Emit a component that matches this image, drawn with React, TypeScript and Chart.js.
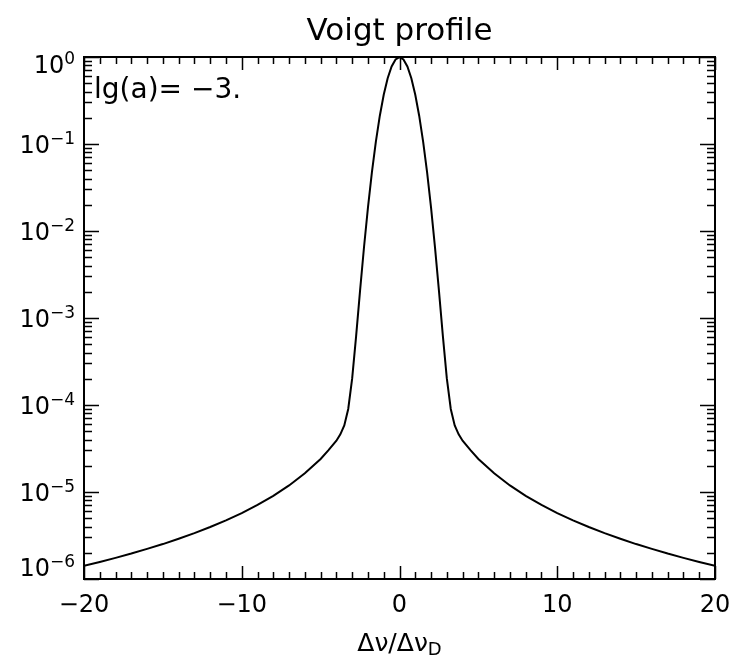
import React, { useEffect, useRef } from "react";
import { Chart, registerables } from "chart.js";

Chart.register(...registerables);

// Voigt profile H(a, v) with lg(a) = -3
const detuning = [
  -20, -19, -18, -17, -16, -15, -14, -13, -12, -11, -10, -9, -8, -7, -6, -5, -4.5, -4,
  -3.75, -3.5, -3.25, -3, -2.75, -2.5, -2.25, -2, -1.75, -1.5, -1.25, -1, -0.75, -0.5, -0.25,
  0,
  0.25, 0.5, 0.75, 1, 1.25, 1.5, 1.75, 2, 2.25, 2.5, 2.75, 3, 3.25, 3.5, 3.75,
  4, 4.5, 5, 6, 7, 8, 9, 10, 11, 12, 13, 14, 15, 16, 17, 18, 19, 20,
];
const profile = [
  1.42e-6, 1.57e-6, 1.75e-6, 1.96e-6, 2.22e-6, 2.52e-6, 2.9e-6, 3.37e-6, 3.96e-6, 4.72e-6,
  5.73e-6, 7.1e-6, 9.02e-6, 1.19e-5, 1.64e-5, 2.4e-5, 3.03e-5, 3.89e-5,
  4.6e-5, 5.81e-5, 9.0e-5, 2.02e-4, 6.2e-4, 2.06e-3, 6.5e-3, 1.855e-2, 4.707e-2, 0.1057, 0.21, 0.368, 0.5696, 0.7781, 0.9384,
  0.9989,
  0.9384, 0.7781, 0.5696, 0.368, 0.21, 0.1057, 4.707e-2, 1.855e-2, 6.5e-3, 2.06e-3, 6.2e-4, 2.02e-4, 9.0e-5, 5.81e-5, 4.6e-5,
  3.89e-5, 3.03e-5, 2.4e-5, 1.64e-5, 1.19e-5, 9.02e-6, 7.1e-6, 5.73e-6, 4.72e-6, 3.96e-6, 3.37e-6,
  2.9e-6, 2.52e-6, 2.22e-6, 1.96e-6, 1.75e-6, 1.57e-6, 1.42e-6,
];

const xMin = -20;
const xMax = 20;
const xMajorStep = 10;
const xMinorStep = 1;
const yMinDecade = -6;
const yMaxDecade = 0;

const titleText = "Voigt profile";
const annotationText = "lg(a)= −3.";
const xAxisLabel = "Δν/Δν";
const xAxisSub = "D";
const yTickBase = "10";

const FONT = '"DejaVu Sans", sans-serif';

const idlFrame = {
  id: "idlFrame",
  afterDraw(chart: any) {
    const { ctx, chartArea: a, scales } = chart;
    const xs = scales.x;
    const ys = scales.y;
    ctx.save();
    ctx.strokeStyle = "#000";
    ctx.fillStyle = "#000";

    // tick marks, inward, on all four sides
    ctx.lineWidth = 1.5;
    ctx.beginPath();
    for (let v = xMin; v <= xMax; v += xMinorStep) {
      const px = Math.round(xs.getPixelForValue(v)) + 0.5;
      const len = v % xMajorStep === 0 ? 13 : 7;
      ctx.moveTo(px, a.bottom);
      ctx.lineTo(px, a.bottom - len);
      ctx.moveTo(px, a.top);
      ctx.lineTo(px, a.top + len);
    }
    for (let k = yMinDecade; k <= yMaxDecade; k++) {
      for (let m = 1; m <= 9; m++) {
        const v = m * Math.pow(10, k);
        if (v > Math.pow(10, yMaxDecade) * 1.0001) break;
        const py = Math.round(ys.getPixelForValue(v)) + 0.5;
        const len = m === 1 ? 15 : 8;
        ctx.moveTo(a.left, py);
        ctx.lineTo(a.left + len, py);
        ctx.moveTo(a.right, py);
        ctx.lineTo(a.right - len, py);
      }
    }
    ctx.stroke();

    // frame
    ctx.lineWidth = 2;
    ctx.strokeRect(a.left, a.top, a.right - a.left, a.bottom - a.top);

    // y tick labels 10^k, from the y scale's own ticks
    ctx.textBaseline = "middle";
    ctx.textAlign = "left";
    for (const t of ys.ticks) {
      const v = t.value;
      const l = Math.log10(v);
      if (Math.abs(l - Math.round(l)) > 1e-6) continue;
      const py = ys.getPixelForValue(v);
      const cy = Math.min(Math.max(py + 3, a.top + 10), a.bottom - 9);
      const expText = String(Math.round(l)).replace("-", "−");
      ctx.font = `24px ${FONT}`;
      const wBase = ctx.measureText(yTickBase).width;
      ctx.font = `17px ${FONT}`;
      const wExp = ctx.measureText(expText).width;
      const xBase = a.left - 9 - wExp - wBase;
      ctx.font = `24px ${FONT}`;
      ctx.fillText(yTickBase, xBase, cy);
      ctx.font = `17px ${FONT}`;
      ctx.fillText(expText, xBase + wBase, cy - 7);
    }

    // title
    ctx.textBaseline = "alphabetic";
    ctx.font = `31px ${FONT}`;
    ctx.textAlign = "center";
    ctx.fillText(titleText, (a.left + a.right) / 2, 40);

    // annotation
    ctx.font = `28px ${FONT}`;
    ctx.textAlign = "left";
    ctx.fillText(annotationText, a.left + 10, 98);

    // x axis title with subscript
    ctx.font = `25px ${FONT}`;
    const wMain = ctx.measureText(xAxisLabel).width;
    ctx.font = `18px ${FONT}`;
    const wSub = ctx.measureText(xAxisSub).width;
    const x0 = (a.left + a.right) / 2 - (wMain + wSub) / 2;
    ctx.font = `25px ${FONT}`;
    ctx.fillText(xAxisLabel, x0, 651);
    ctx.font = `18px ${FONT}`;
    ctx.fillText(xAxisSub, x0 + wMain, 655);

    ctx.restore();
  },
};

export default function App() {
  const ref = useRef<HTMLCanvasElement | null>(null);

  useEffect(() => {
    document.body.style.margin = "0";
    const canvas = ref.current;
    if (!canvas) return;
    const points = detuning.map((x, i) => ({ x, y: profile[i] }));
    const chart = new Chart(canvas, {
      type: "line",
      data: {
        datasets: [
          {
            data: points,
            borderColor: "#000",
            borderWidth: 2,
            pointRadius: 0,
            tension: 0,
            fill: false,
          },
        ],
      },
      options: {
        responsive: false,
        animation: false,
        events: [],
        layout: { padding: { top: 57, right: 19, left: 0, bottom: 0 } },
        plugins: {
          legend: { display: false },
          title: { display: false },
          tooltip: { enabled: false },
        },
        scales: {
          x: {
            type: "linear",
            min: xMin,
            max: xMax,
            grid: { display: false, drawTicks: false },
            border: { display: false },
            ticks: {
              stepSize: xMajorStep,
              padding: 12,
              color: "#000",
              font: { family: FONT, size: 24 },
              maxRotation: 0,
              callback: (v: any) => String(v).replace("-", "−"),
            },
            afterFit: (s: any) => {
              s.height = 83;
              s.paddingLeft = 0;
              s.paddingRight = 0;
            },
          },
          y: {
            type: "logarithmic",
            min: Math.pow(10, yMinDecade),
            max: Math.pow(10, yMaxDecade),
            grid: { display: false, drawTicks: false },
            border: { display: false },
            ticks: { display: false, autoSkip: false },
            afterFit: (s: any) => {
              s.width = 84;
            },
          },
        },
      },
      plugins: [idlFrame],
    });
    return () => chart.destroy();
  }, []);

  return <canvas ref={ref} width={734} height={662} style={{ display: "block" }} />;
}
